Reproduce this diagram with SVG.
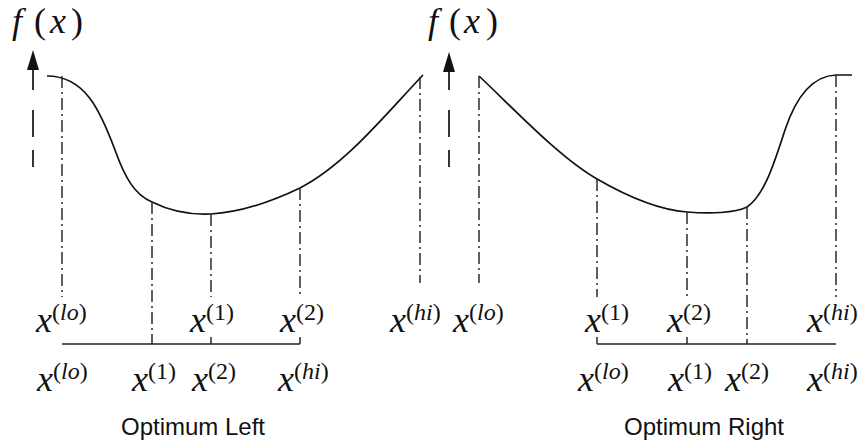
<svg xmlns="http://www.w3.org/2000/svg" width="864" height="444" viewBox="0 0 864 444">
<style>
.curve{fill:none;stroke:#111;stroke-width:1.7}
.dd{fill:none;stroke:#2a2a2a;stroke-width:1.5;stroke-dasharray:12 4 2 4}
.axis{fill:none;stroke:#222;stroke-width:1.7}
.shaft{fill:none;stroke:#111;stroke-width:1.7;stroke-dasharray:17 13 27 20 60}
.head{fill:#111}
.m{font-family:"Liberation Serif","Times New Roman",serif;font-size:36px;fill:#111}
.i{font-style:italic}
.s{font-size:24px}
.cap{font-family:"Liberation Sans",Arial,sans-serif;font-size:24px;fill:#111;text-anchor:middle}
</style>
<rect width="864" height="444" fill="#fff"/>

<g id="left-panel">
  <g id="left-fx">
    <text class="m" y="33"><tspan class="i" x="12">f</tspan><tspan x="34">(</tspan><tspan class="i" x="50">x</tspan><tspan x="71">)</tspan></text>
    <path class="shaft" d="M33 167 V56"/>
    <polygon class="head" points="33,50 27,70 39,70"/>
  </g>
  <g id="left-curve">
    <path class="curve" d="M47 76 C85 76,100 110,115 150 C125 178,135 195,152 202 C170 211,190 215,211 214 C245 212,275 200,300 188 C345 165,385 115,423 75"/>
  </g>
  <g id="left-guides">
    <path class="dd" d="M62 76 V297"/>
    <path class="dd" d="M152 202 V344"/>
    <path class="dd" d="M211 214 V297 M211 337 V344"/>
    <path class="dd" d="M300 188 V297 M300 337 V344"/>
    <path class="dd" d="M420 77 V283"/>
    <path class="axis" d="M62 344 H300"/>
  </g>
  <g id="left-labels">
    <text class="m" x="36" y="332"><tspan class="i">x</tspan><tspan class="s" dy="-12">(<tspan class="i">lo</tspan>)</tspan></text>
    <text class="m" x="190" y="332"><tspan class="i">x</tspan><tspan class="s" dy="-12">(1)</tspan></text>
    <text class="m" x="280" y="332"><tspan class="i">x</tspan><tspan class="s" dy="-12">(2)</tspan></text>
    <text class="m" x="390" y="332"><tspan class="i">x</tspan><tspan class="s" dy="-12">(<tspan class="i">hi</tspan>)</tspan></text>
    <text class="m" x="37" y="391"><tspan class="i">x</tspan><tspan class="s" dy="-12">(<tspan class="i">lo</tspan>)</tspan></text>
    <text class="m" x="132" y="391"><tspan class="i">x</tspan><tspan class="s" dy="-12">(1)</tspan></text>
    <text class="m" x="192" y="391"><tspan class="i">x</tspan><tspan class="s" dy="-12">(2)</tspan></text>
    <text class="m" x="278" y="391"><tspan class="i">x</tspan><tspan class="s" dy="-12">(<tspan class="i">hi</tspan>)</tspan></text>
    <text class="cap" x="193" y="435">Optimum Left</text>
  </g>
</g>

<g id="right-panel">
  <g id="right-fx">
    <text class="m" y="33"><tspan class="i" x="428">f</tspan><tspan x="449">(</tspan><tspan class="i" x="464">x</tspan><tspan x="486">)</tspan></text>
    <path class="shaft" d="M449 167 V58"/>
    <polygon class="head" points="449,52 443,72 455,72"/>
  </g>
  <g id="right-curve">
    <path class="curve" d="M479 76 C515 110,560 158,597 179 C630 198,660 210,687 212 C710 214,735 213,747 207 C765 195,775 160,785 130 C795 100,810 76,836 75 H852"/>
  </g>
  <g id="right-guides">
    <path class="dd" d="M479 76 V283"/>
    <path class="dd" d="M597 179 V297 M597 337 V344"/>
    <path class="dd" d="M687 212 V297 M687 337 V344"/>
    <path class="dd" d="M747 207 V344"/>
    <path class="dd" d="M836 75 V297"/>
    <path class="axis" d="M597 344 H836"/>
  </g>
  <g id="right-labels">
    <text class="m" x="453" y="332"><tspan class="i">x</tspan><tspan class="s" dy="-12">(<tspan class="i">lo</tspan>)</tspan></text>
    <text class="m" x="585" y="332"><tspan class="i">x</tspan><tspan class="s" dy="-12">(1)</tspan></text>
    <text class="m" x="667" y="332"><tspan class="i">x</tspan><tspan class="s" dy="-12">(2)</tspan></text>
    <text class="m" x="807" y="332"><tspan class="i">x</tspan><tspan class="s" dy="-12">(<tspan class="i">hi</tspan>)</tspan></text>
    <text class="m" x="578" y="391"><tspan class="i">x</tspan><tspan class="s" dy="-12">(<tspan class="i">lo</tspan>)</tspan></text>
    <text class="m" x="668" y="391"><tspan class="i">x</tspan><tspan class="s" dy="-12">(1)</tspan></text>
    <text class="m" x="725" y="391"><tspan class="i">x</tspan><tspan class="s" dy="-12">(2)</tspan></text>
    <text class="m" x="807" y="391"><tspan class="i">x</tspan><tspan class="s" dy="-12">(<tspan class="i">hi</tspan>)</tspan></text>
    <text class="cap" x="704" y="435">Optimum Right</text>
  </g>
</g>
</svg>
